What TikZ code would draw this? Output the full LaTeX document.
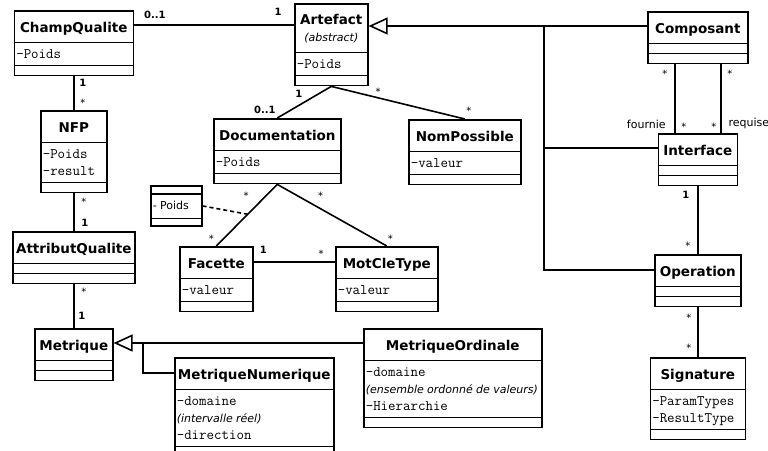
\documentclass[tikz,border=0pt]{standalone}
\usepackage{fontspec}
\setmainfont{DejaVu Sans}
\usetikzlibrary{positioning, shapes.multipart, arrows.meta}
\setlength{\parindent}{0pt}

% compartments of a class box
\newcommand{\kname}[1]{\hbox to\hsize{\hss\fontsize{13.5}{16}\selectfont\bfseries\rule[-9pt]{0pt}{30pt}#1\hss}}
\newcommand{\kattr}[1]{\vbox{\offinterlineskip\fontsize{14.5}{17}\selectfont\ttfamily\kern3pt#1\kern1.5pt}}
\newcommand{\zeile}[1]{\hbox{\rule[-5pt]{0pt}{17pt}#1}}
\newcommand{\kmeta}[1]{{\normalfont\itshape\fontsize{11}{17}\selectfont #1}}
\newcommand{\leer}{\rule{0pt}{8.5pt}}

\begin{document}
\begin{tikzpicture}[x=1pt, y=-1pt,
  klasse/.style={draw, line width=1.6pt, fill=white, rectangle split, rectangle split parts=3,
    anchor=north west, inner xsep=2pt, inner ysep=0pt},
  assoc/.style={line width=1.6pt},
  erbt/.style={line width=1.6pt, -{Triangle[open, length=19pt, width=17pt]}},
  mult/.style={font=\fontsize{10}{12}\selectfont\bfseries, inner sep=0.5pt},
  stern/.style={mult, font=\fontsize{10}{12}\selectfont, yshift=-2pt},
  rolle/.style={font=\fontsize{11}{13}\selectfont, inner sep=0.5pt}]

\useasboundingbox (0,0) rectangle (768,450);

\node[klasse, text width=115pt] (cq) at (13.5,10) {\kname{ChampQualite}\nodepart{two}\kattr{\zeile{-Poids}}\nodepart{three}\leer};
\node[klasse, text width=62pt] (nfp) at (40,110) {\kname{NFP}\nodepart{two}\kattr{\zeile{-Poids}\zeile{-result}}\nodepart{three}\leer};
\node[klasse, text width=118pt] (aq) at (12,231) {\kname{AttributQualite}\nodepart{two}\leer\nodepart{three}\leer};
\node[klasse, text width=74pt] (met) at (34,328) {\kname{Metrique}\nodepart{two}\leer\nodepart{three}\leer};
\node[klasse, text width=69pt] (art) at (294,3) {\vbox{\offinterlineskip
    \hbox to\hsize{\hss\fontsize{13.5}{16}\selectfont\bfseries\rule[-5pt]{0pt}{25pt}Artefact\hss}
    \hbox to\hsize{\hss\kmeta{(abstract)}\rule[-10pt]{0pt}{22pt}\hss}}%
  \nodepart{two}\kattr{\zeile{-Poids}}\nodepart{three}\leer};
\node[klasse, text width=123pt] (doc) at (213,118) {\kname{Documentation}\nodepart{two}\kattr{\zeile{-Poids}}\nodepart{three}\leer};
\node[klasse, text width=108pt] (nom) at (408,119) {\kname{NomPossible}\nodepart{two}\kattr{\zeile{-valeur}}\nodepart{three}\leer};
\node[klasse, text width=69pt] (fac) at (179,246) {\kname{Facette}\nodepart{two}\kattr{\zeile{-valeur}}\nodepart{three}\leer};
\node[klasse, text width=98pt] (mct) at (335,246) {\kname{MotCleType}\nodepart{two}\kattr{\zeile{-valeur}}\nodepart{three}\leer};
\node[klasse, text width=47pt] (poids) at (150,185) {\rule{0pt}{6.5pt}\nodepart{two}\hbox{\fontsize{11}{13}\selectfont\rule[-8pt]{0pt}{23pt}- Poids}\nodepart{three}\rule{0pt}{6pt}};
\node[klasse, text width=96pt] (comp) at (647,11) {\kname{Composant}\nodepart{two}\leer\nodepart{three}\leer};
\node[klasse, text width=75pt] (intf) at (657.5,133) {\kname{Interface}\nodepart{two}\leer\nodepart{three}\leer};
\node[klasse, text width=82pt] (op) at (654,254) {\kname{Operation}\nodepart{two}\leer\nodepart{three}\leer};
\node[klasse, text width=91pt] (sig) at (649.5,357) {\kname{Signature}\nodepart{two}\kattr{\zeile{-ParamTypes}\zeile{-ResultType}}\nodepart{three}\leer};
\node[klasse, text width=174pt] (mo) at (363,328) {\kname{MetriqueOrdinale}\nodepart{two}\kattr{\zeile{-domaine}\zeile{\kmeta{(ensemble ordonné de valeurs)}}\zeile{-Hierarchie}}\nodepart{three}\leer};
\node[klasse, text width=155pt] (mn) at (174,357) {\kname{MetriqueNumerique}\nodepart{two}\kattr{\zeile{-domaine}\zeile{\kmeta{(intervalle réel)}}\zeile{-direction}}\nodepart{three}\leer};

% associations
\draw[assoc] ([yshift=-15pt]cq.north east) -- node[mult, pos=0.13, yshift=10pt] {0..1} node[mult, pos=0.9, yshift=13pt] {1} ([yshift=-22pt]art.north west);
\draw[assoc] (cq.south) -- node[mult, pos=0.2, xshift=9pt] {1} node[stern, pos=0.72, xshift=9pt] {*} (nfp.north);
\draw[assoc] (nfp.south) -- node[stern, pos=0.18, xshift=10pt] {*} node[mult, pos=0.77, xshift=11pt] {1} (aq.north);
\draw[assoc] (aq.south) -- node[stern, pos=0.12, xshift=10pt] {*} node[mult, pos=0.72, xshift=8pt] {1} (met.north);
\draw[assoc] (art.south) -- node[mult, pos=0.25, xshift=-19pt] {1} node[mult, pos=0.75, xshift=-26pt] {0..1} (doc.north);
\draw[assoc] (art.south) -- node[stern, pos=0.35, yshift=8pt] {*} node[stern, pos=0.97, xshift=8pt, yshift=9pt] {*} (nom.north);
\draw[assoc] (doc.south) -- node[stern, pos=0.15, xshift=-22pt] {*} coordinate[pos=0.485] (assoz) node[stern, pos=0.85, xshift=-14pt] {*} (fac.north);
\draw[assoc] (doc.south) -- node[stern, pos=0.15, xshift=27pt] {*} node[stern, pos=0.85, xshift=20pt] {*} (mct.north);
\draw[assoc] ([yshift=-16pt]fac.north east) -- node[mult, pos=0.12, yshift=12pt] {1} node[stern, pos=0.83, yshift=10pt] {*} ([yshift=-16pt]mct.north west);
\draw[assoc, dash pattern=on 4pt off 3pt] (poids.east) -- (assoz);
\draw[assoc] ([xshift=-23pt]comp.south) -- node[stern, pos=0.105, xshift=-10pt] {*} node[stern, pos=0.88, xshift=9pt] {*} node[rolle, pos=0.88, xshift=-28.5pt] {fournie} ([xshift=-23pt]intf.north);
\draw[assoc] ([xshift=23pt]comp.south) -- node[stern, pos=0.105, xshift=9pt] {*} node[stern, pos=0.88, xshift=-7pt] {*} node[rolle, pos=0.86, xshift=28pt] {requise} ([xshift=23pt]intf.north);
\draw[assoc] (intf.south) -- node[mult, pos=0.12, xshift=-12pt] {1} node[stern, pos=0.85, xshift=-10pt] {*} (op.north);
\draw[assoc] (op.south) -- node[stern, pos=0.16, xshift=-9pt] {*} node[stern, pos=0.78, xshift=-9pt] {*} (sig.north);

% generalisations
\coordinate (gen) at (544,26);
\draw[erbt] ([yshift=-15pt]comp.north west) -- ([yshift=-23pt]art.north east);
\draw[assoc] ([yshift=-15pt]intf.north west) -| (gen);
\draw[assoc] ([yshift=-16pt]op.north west) -| (gen);
\coordinate (mgen) at (143,343);
\draw[erbt] ([yshift=-15pt]mo.north west) -- ([yshift=-15pt]met.north east);
\draw[assoc] ([yshift=-16pt]mn.north west) -| (mgen);
\end{tikzpicture}
\end{document}
